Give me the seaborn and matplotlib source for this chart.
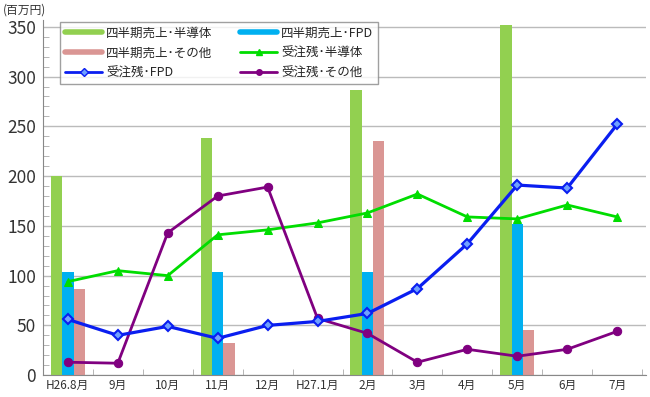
import numpy as np
import pandas as pd
import seaborn as sns
import matplotlib.pyplot as plt
from matplotlib.lines import Line2D
from matplotlib.ticker import MultipleLocator

months = ["H26.8月", "9月", "10月", "11月", "12月", "H27.1月",
          "2月", "3月", "4月", "5月", "6月", "7月"]

# quarterly sales (only at quarter months)
q_months = ["H26.8月", "11月", "2月", "5月"]
sales_semi = [200, 238, 287, 352]
sales_fpd = [104, 104, 104, 152]
sales_other = [87, 32, 235, 45]

# order backlog (monthly)
backlog_semi = [94, 105, 100, 141, 146, 153, 163, 182, 159, 157, 171, 159]
backlog_fpd = [56, 40, 49, 37, 50, 54, 62, 87, 132, 191, 188, 252]
backlog_other = [13, 12, 143, 180, 189, 57, 42, 13, 26, 19, 26, 44]

bar_names = ["四半期売上･半導体", "四半期売上･FPD", "四半期売上･その他"]
bar_colors = ["#92D050", "#00B0F0", "#DA9694"]

sns.set_style("white")
plt.rcParams['font.family'] = ['Noto Sans CJK JP', 'DejaVu Sans']

bars = pd.DataFrame({
    "month": q_months * 3,
    "series": [bar_names[0]] * 4 + [bar_names[1]] * 4 + [bar_names[2]] * 4,
    "value": sales_semi + sales_fpd + sales_other,
})

fig = plt.figure(figsize=(6.5, 3.97), dpi=100)
ax = fig.add_axes([0.066, 0.055, 0.928, 0.895])

sns.barplot(data=bars, x="month", y="value", hue="series", order=months,
            hue_order=bar_names, palette=bar_colors, width=0.68, saturation=1,
            gap=0, legend=False, linewidth=0, edgecolor="none", ax=ax,
            zorder=2)

x = np.arange(len(months))
sns.lineplot(x=x, y=backlog_semi, color="#00DD00", marker="^", markersize=6,
             markeredgecolor="#00DD00", linewidth=2, ax=ax, zorder=3)
sns.lineplot(x=x, y=backlog_fpd, color="#0A1EF0", marker="D", markersize=5,
             markerfacecolor="#6FA0FF", markeredgecolor="#0A1EF0",
             markeredgewidth=1.5, linewidth=2.3, ax=ax, zorder=4)
sns.lineplot(x=x, y=backlog_other, color="#800080", marker="o", markersize=6,
             markeredgecolor="#800080", linewidth=2, ax=ax, zorder=3)

ax.set_xlim(-0.5, len(months) - 0.42)
ax.set_ylim(0, 357)
ax.yaxis.set_major_locator(MultipleLocator(50))
ax.yaxis.set_minor_locator(MultipleLocator(10))
ax.grid(axis="y", color="#BBBBBB", linewidth=1, zorder=0)
ax.set_axisbelow(True)
ax.set_xlabel("")
ax.set_ylabel("")
ax.set_xticks(x)
ax.set_xticklabels(months)
ax.set_xticks(np.arange(len(months) + 1) - 0.5, minor=True)
ax.tick_params(axis="y", which="major", labelsize=12.5, length=0, pad=5,
               labelcolor="#333333")
ax.tick_params(axis="y", which="minor", direction="in", length=4,
               color="#AAAAAA", left=True)
ax.tick_params(axis="x", which="major", length=0, labelsize=8.5,
               labelcolor="#333333", pad=3)
ax.tick_params(axis="x", which="minor", direction="in", length=4,
               color="#AAAAAA", bottom=True)
for s in ["top", "right"]:
    ax.spines[s].set_visible(False)
for s in ["left", "bottom"]:
    ax.spines[s].set_color("#888888")

handles = [
    Line2D([0], [0], color=bar_colors[0], linewidth=4),
    Line2D([0], [0], color=bar_colors[2], linewidth=4),
    Line2D([0], [0], color="#0A1EF0", linewidth=2, marker="D", markersize=4,
           markerfacecolor="#6FA0FF"),
    Line2D([0], [0], color=bar_colors[1], linewidth=4),
    Line2D([0], [0], color="#00DD00", linewidth=2, marker="^", markersize=5),
    Line2D([0], [0], color="#800080", linewidth=2, marker="o", markersize=4),
]
labels = ["四半期売上･半導体", "四半期売上･その他", "受注残･FPD",
          "四半期売上･FPD", "受注残･半導体", "受注残･その他"]
leg = ax.legend(handles, labels, ncol=2, loc="upper left",
                bbox_to_anchor=(0.028, 0.995), fontsize=9, frameon=True,
                fancybox=False, edgecolor="#888888", handlelength=3,
                columnspacing=2.2, labelspacing=0.55, borderpad=0.4,
                handletextpad=0.3, borderaxespad=0)
leg.get_frame().set_linewidth(1)

fig.text(0.005, 0.975, "(百万円)", fontsize=8.5, color="#333333",
         va="center", ha="left")

fig.savefig("out.png", dpi=100)
